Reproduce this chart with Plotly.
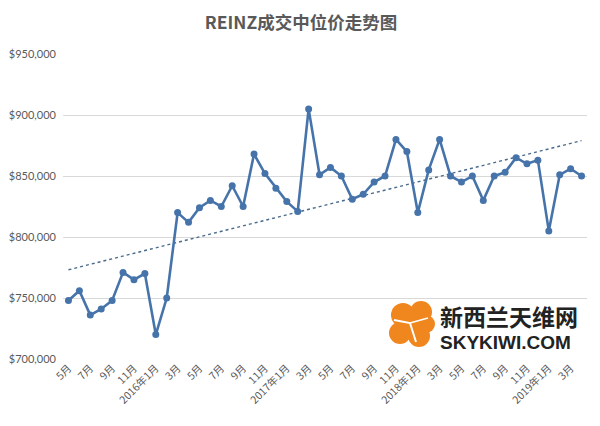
import numpy as np
import plotly.graph_objects as go

# ---- data ----
months = ["2015-05","2015-06","2015-07","2015-08","2015-09","2015-10","2015-11","2015-12",
          "2016-01","2016-02","2016-03","2016-04","2016-05","2016-06","2016-07","2016-08",
          "2016-09","2016-10","2016-11","2016-12","2017-01","2017-02","2017-03","2017-04",
          "2017-05","2017-06","2017-07","2017-08","2017-09","2017-10","2017-11","2017-12",
          "2018-01","2018-02","2018-03","2018-04","2018-05","2018-06","2018-07","2018-08",
          "2018-09","2018-10","2018-11","2018-12","2019-01","2019-02","2019-03","2019-04"]
median_price = [748000, 756000, 736000, 741000, 748000, 771000, 765000, 770000,
                720000, 750000, 820000, 812000, 824000, 830000, 825000, 842000,
                825000, 868000, 852000, 840000, 829000, 821000, 905000, 851000,
                857000, 850000, 831000, 835000, 845000, 850000, 880000, 870000,
                820000, 855000, 880000, 850000, 845000, 850000, 830000, 850000,
                853000, 865000, 860000, 863000, 805000, 851000, 856000, 850000]
tick_labels = ["5月","7月","9月","11月","2016年1月","3月","5月","7月","9月","11月",
               "2017年1月","3月","5月","7月","9月","11月","2018年1月","3月","5月","7月",
               "9月","11月","2019年1月","3月"]
y_ticks = [700000, 750000, 800000, 850000, 900000, 950000]

x = np.arange(len(months))
coef = np.polyfit(x, np.array(median_price, dtype=float), 1)
trend = np.polyval(coef, x)

blue = "#4674aa"
grey_text = "#595959"

fig = go.Figure()
fig.add_trace(go.Scatter(x=x, y=trend, mode="lines",
                         line=dict(color="#4a6a8a", width=1.4, dash="dot"),
                         hoverinfo="skip", showlegend=False))
fig.add_trace(go.Scatter(x=x, y=median_price, mode="lines+markers",
                         line=dict(color=blue, width=2.6),
                         marker=dict(color=blue, size=7),
                         showlegend=False))

# page is offset by the browser's default 8px body margin
OFF = 8
L, R, T, B = 63, 587, 54, 359          # desired plot area in window pixels
PW, PH = R - L, B - T
def px(v): return (v - L) / PW
def py(v): return (B - v) / PH

# ---- decorative logo ----
orange = "#f0871e"
for cx, cy, r in [(403, 315, 12), (421, 312, 11), (400, 333, 11), (419, 336, 11),
                  (426, 324, 9), (411, 324, 10)]:
    fig.add_shape(type="circle", xref="paper", yref="paper",
                  x0=px(cx - r), x1=px(cx + r), y0=py(cy + r), y1=py(cy - r),
                  fillcolor=orange, line=dict(width=0), layer="above")
fig.add_shape(type="path", xref="paper", yref="paper",
              path=f"M {px(394)},{py(320)} L {px(410)},{py(323)} L {px(416)},{py(342)}",
              line=dict(color="white", width=2), layer="above")
fig.add_shape(type="path", xref="paper", yref="paper",
              path=f"M {px(410)},{py(323)} L {px(428)},{py(318)}",
              line=dict(color="white", width=1.5), layer="above")
fig.add_annotation(xref="paper", yref="paper", x=px(438), y=py(316), xanchor="left", yanchor="middle",
                   text="<b>新西兰天维网</b>", showarrow=False,
                   font=dict(size=23, color="#222222", family="Noto Sans CJK SC"))
fig.add_annotation(xref="paper", yref="paper", x=px(438), y=py(342.5), xanchor="left", yanchor="middle",
                   text="<b>SKYKIWI.COM</b>", showarrow=False,
                   font=dict(size=19, color="#222222", family="Liberation Sans"))

fig.update_layout(
    width=600, height=426,
    margin=dict(l=L - OFF, r=600 + OFF - R, t=T - OFF, b=426 + OFF - B, autoexpand=False),
    paper_bgcolor="white", plot_bgcolor="white",
    title=dict(text="<b>REINZ成交中位价走势图</b>", xref="paper", x=px(301), xanchor="center",
               yref="container", y=1 - (23 - OFF) / 426, yanchor="middle",
               font=dict(size=17.5, color=grey_text, family="Noto Sans CJK SC")),
    font=dict(family="Noto Sans CJK SC", color=grey_text, size=11),
    xaxis=dict(range=[-0.5, len(months) - 0.5], tickmode="array",
               tickvals=list(x[::2]), ticktext=tick_labels, tickangle=-45,
               showgrid=False, zeroline=False, showline=False, ticks="",
               automargin=False,
               tickfont=dict(size=10.5, color=grey_text)),
    yaxis=dict(range=[700000, 950000], tickmode="array", tickvals=y_ticks,
               ticktext=["${:,}".format(v) for v in y_ticks],
               showgrid=True, gridcolor="#d9d9d9", gridwidth=1,
               zeroline=False, showline=False, ticks="", automargin=False,
               ticklabelstandoff=6,
               tickfont=dict(size=11, color=grey_text, family="Lato")),
)

fig.write_html("out.html")
